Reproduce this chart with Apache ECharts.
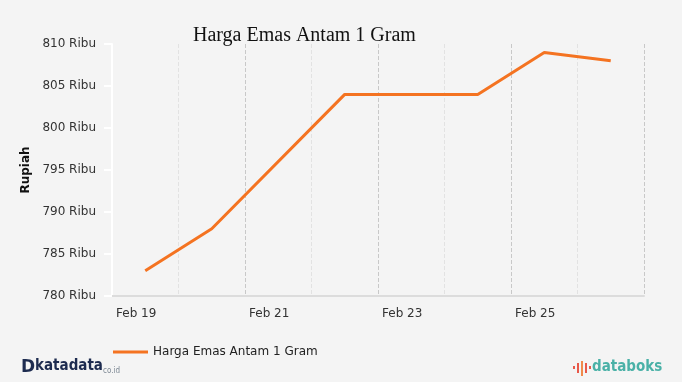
<!DOCTYPE html>
<html><head><meta charset="utf-8">
<script src="https://cdn.jsdelivr.net/npm/echarts@6/dist/echarts.min.js"></script>
<style>html,body{margin:0;padding:0;background:#f4f4f4}#c{width:682px;height:382px}</style>
</head><body><div id="c"></div>
<script>
const days = ['Feb 19','Feb 20','Feb 21','Feb 22','Feb 23','Feb 24','Feb 25','Feb 26'];
const prices = [783, 788, null, 804, null, 804, 809, 808];
const yTicks = [780, 785, 790, 795, 800, 805, 810];
const seriesName = 'Harga Emas Antam 1 Gram';
const titleText = 'Harga Emas Antam 1 Gram';

const chart = echarts.init(document.getElementById('c'));
const data = prices.map((v, i) => [i + 0.5, v]).filter(d => d[1] !== null);
const bar = (x, y, h, c) => ({ type: 'rect', left: x, top: y, shape: { width: 2, height: h }, style: { fill: c } });
chart.setOption({
  backgroundColor: '#f4f4f4',
  animation: false,
  title: { text: titleText, left: 188, top: 21, padding: 5,
    textStyle: { fontFamily: 'Liberation Serif', fontSize: 20, fontWeight: 'normal', color: '#111' } },
  grid: { left: 112, right: 38, top: 44, bottom: 86 },
  legend: { left: 108, top: 341, itemWidth: 35, itemHeight: 3, itemGap: 6, icon: 'rect',
    textStyle: { fontFamily: 'DejaVu Sans', fontSize: 12, color: '#222' }, data: [seriesName] },
  xAxis: { type: 'value', min: 0, max: days.length, interval: 1,
    axisLine: { show: true, lineStyle: { color: '#dcdcdc', width: 2 } },
    axisTick: { show: false },
    splitLine: { show: true, lineStyle: { type: 'dashed', color: ['#c8c8c8', '#e2e2e2'], width: 1 } },
    axisLabel: { formatter: v => (v % 2 === 0 && v < days.length) ? days[v] : '', align: 'left', padding: [0,0,0,4], margin: 12,
      fontFamily: 'DejaVu Sans', fontSize: 12, color: '#333', showMaxLabel: true } },
  yAxis: { type: 'value', min: yTicks[0], max: yTicks[yTicks.length - 1], interval: 5,
    name: 'Rupiah', nameLocation: 'middle', nameGap: 80, nameRotate: 90,
    nameTextStyle: { fontFamily: 'DejaVu Sans', fontSize: 12, fontWeight: 'bold', color: '#111' },
    axisLine: { show: true, lineStyle: { color: '#ffffff', width: 2 } },
    axisTick: { show: true, length: 8, lineStyle: { color: '#ffffff', width: 2 } },
    splitLine: { show: false },
    axisLabel: { formatter: v => v + ' Ribu', margin: 16, fontFamily: 'DejaVu Sans', fontSize: 12, color: '#333' } },
  series: [{ name: seriesName, type: 'line', data: data, showSymbol: false, symbol: 'none',
    lineStyle: { color: '#f47321', width: 3 }, itemStyle: { color: '#f47321' } }],
  graphic: [
    { type: 'text', left: 21, top: 359, style: { text: 'D', font: 'bold 17px DejaVu Sans', fill: '#1d2b4f' } },
    { type: 'text', left: 35, top: 359, style: { text: 'katadata', font: 'bold 15px DejaVu Sans Condensed', fill: '#1d2b4f' } },
    { type: 'text', left: 103, top: 367, style: { text: 'co.id', font: '8px DejaVu Sans Condensed', fill: '#7d8894' } },
    bar(573, 366, 3, '#e8594a'), bar(577, 363, 10, '#e8594a'), bar(581, 361, 15, '#f08a4b'),
    bar(585, 363, 10, '#e8594a'), bar(589, 366, 3, '#e8594a'),
    { type: 'text', left: 592, top: 360, style: { text: 'databoks', font: 'bold 15px DejaVu Sans Condensed', fill: '#4ab1a7' } }
  ]
});
</script></body></html>
